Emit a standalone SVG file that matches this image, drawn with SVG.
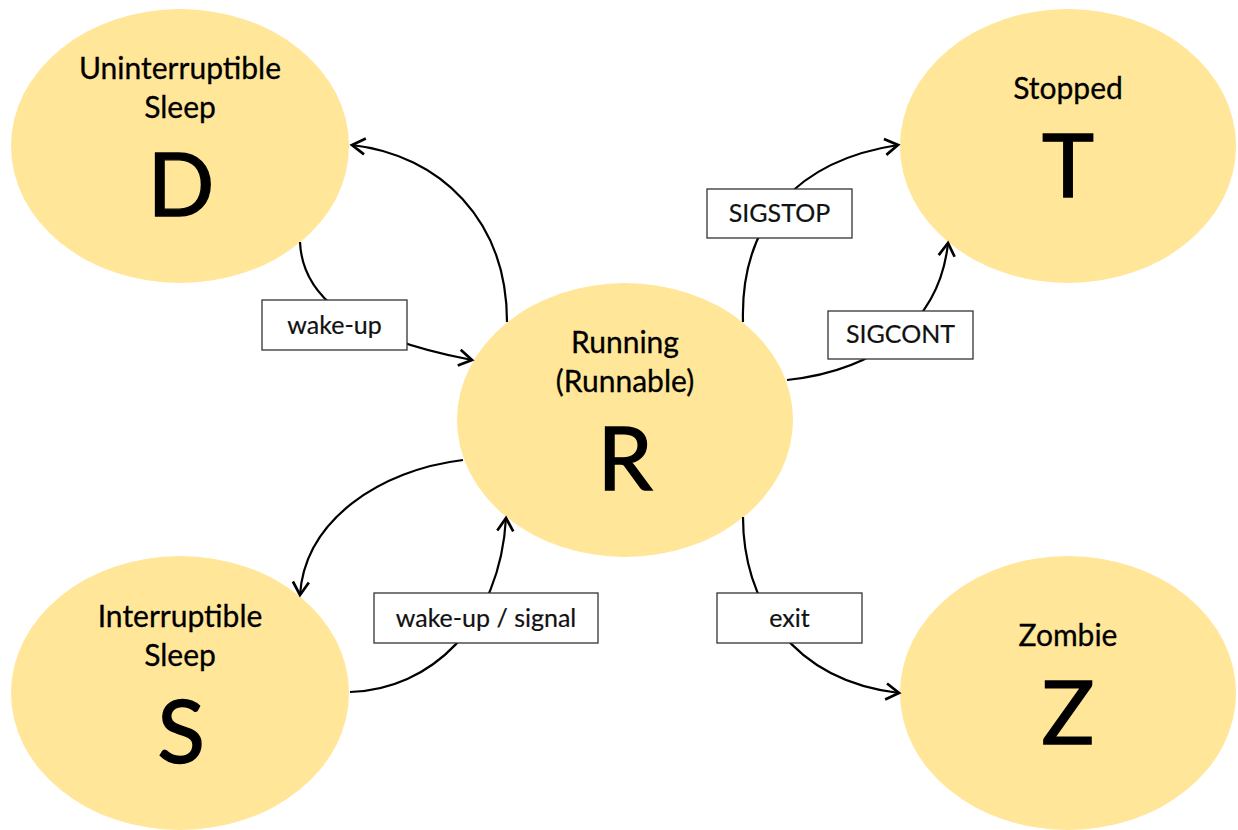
<svg xmlns="http://www.w3.org/2000/svg" width="1238" height="830" viewBox="0 0 1238 830">
<defs>
<style>
.node{fill:#FFE699;stroke:none}
.title{font-family:Lato,"Liberation Sans",sans-serif;font-size:30px;fill:#000;stroke:#000;stroke-width:0.3;text-anchor:middle}
.big{font-family:Lato,"Liberation Sans",sans-serif;font-size:88px;fill:#000;stroke:#000;stroke-width:1.4;text-anchor:middle}
.edge{fill:none;stroke:#000;stroke-width:2.2;marker-end:url(#arrow)}
.lbox{fill:#fff;stroke:#333;stroke-width:1.3}
.ltext{font-family:Lato,"Liberation Sans",sans-serif;font-size:25px;fill:#111;stroke:#111;stroke-width:0.2;text-anchor:middle}
</style>
<marker id="arrow" markerUnits="userSpaceOnUse" markerWidth="20" markerHeight="20" viewBox="0 0 20 20" refX="16" refY="10" orient="auto">
<path d="M3,2 L16,10 L3,18" fill="none" stroke="#000" stroke-width="2.7" stroke-linejoin="miter"/>
</marker>
</defs>
<rect width="1238" height="830" fill="#fff"/>
<g id="D">
<ellipse class="node" cx="180" cy="146" rx="169" ry="137"/>
<text class="title" x="180" y="79">Uninterruptible</text>
<text class="title" x="180" y="118">Sleep</text>
<text class="big" x="181" y="216">D</text>
</g>
<g id="T">
<ellipse class="node" cx="1068" cy="146" rx="168" ry="137"/>
<text class="title" x="1068" y="99">Stopped</text>
<text class="big" x="1068" y="197">T</text>
</g>
<g id="R">
<ellipse class="node" cx="625" cy="420" rx="168" ry="137"/>
<text class="title" x="625" y="353">Running</text>
<text class="title" x="625" y="392">(Runnable)</text>
<text class="big" x="625" y="490">R</text>
</g>
<g id="S">
<ellipse class="node" cx="180" cy="693" rx="169" ry="137"/>
<text class="title" x="180" y="627">Interruptible</text>
<text class="title" x="180" y="666">Sleep</text>
<text class="big" x="181" y="763">S</text>
</g>
<g id="Z">
<ellipse class="node" cx="1068" cy="693" rx="168" ry="137"/>
<text class="title" x="1068" y="646">Zombie</text>
<text class="big" x="1068" y="744">Z</text>
</g>
<g id="connectors">
<path class="edge" d="M 507 322 C 507 220, 440 155, 352 145"/>
<path class="edge" d="M 300 242 C 302 290, 340 335, 472 360"/>
<path class="edge" d="M 743 322 C 740 220, 800 160, 898 145"/>
<path class="edge" d="M 787 380 C 880 370, 940 320, 948 243"/>
<path class="edge" d="M 463 460 C 380 470, 305 520, 300 595"/>
<path class="edge" d="M 350 692 C 430 690, 500 625, 506 518"/>
<path class="edge" d="M 743 517 C 743 600, 790 680, 899 693"/>
</g>
<g id="labels">
<g id="lbl-wakeup"><rect class="lbox" x="262" y="300" width="145" height="50"/><text class="ltext" x="334.5" y="334">wake-up</text></g>
<g id="lbl-sigstop"><rect class="lbox" x="707" y="189" width="145" height="49"/><text class="ltext" x="779.5" y="222">SIGSTOP</text></g>
<g id="lbl-sigcont"><rect class="lbox" x="828" y="311" width="145" height="48"/><text class="ltext" x="900.5" y="343">SIGCONT</text></g>
<g id="lbl-wakeup-signal"><rect class="lbox" x="374" y="593" width="224" height="50"/><text class="ltext" x="486" y="627">wake-up / signal</text></g>
<g id="lbl-exit"><rect class="lbox" x="717" y="593" width="145" height="50"/><text class="ltext" x="789.5" y="627">exit</text></g>
</g>
</svg>
